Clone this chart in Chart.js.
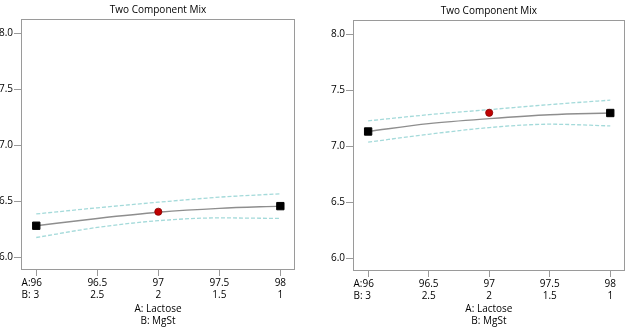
<!DOCTYPE html>
<html>
<head>
<meta charset="utf-8">
<script src="https://cdn.jsdelivr.net/npm/chart.js@4"></script>
<style>
  body { margin: 0; background: #fff; }
  .box { position: absolute; top: 0; height: 328px; }
</style>
</head>
<body>
<div class="box" style="left:0;width:316px"><canvas id="mix_1" width="316" height="328"></canvas></div>
<div class="box" style="left:316px;width:315px"><canvas id="mix_2" width="315" height="328"></canvas></div>
<script>
// 成分の目盛り (A: Lactose, B: MgSt)
var xLactose = [96, 96.5, 97, 97.5, 98];
var xMgSt = ['3', '2.5', '2', '1.5', '1'];
var yTicks = [6.0, 6.5, 7.0, 7.5, 8.0];

// 左のグラフ
var fitLeft = [6.28, 6.345, 6.40, 6.435, 6.455];
var upperLeft = [6.385, 6.44, 6.49, 6.535, 6.565];
var lowerLeft = [6.175, 6.265, 6.325, 6.35, 6.345];
var pointLeft = 6.405;

// 右のグラフ
var fitRight = [7.13, 7.20, 7.245, 7.28, 7.295];
var upperRight = [7.225, 7.28, 7.325, 7.37, 7.41];
var lowerRight = [7.035, 7.105, 7.165, 7.195, 7.18];
var pointRight = 7.297;

var FONT = { family: "'Open Sans', sans-serif", size: 10 };
var TEXT = '#000';
Chart.defaults.color = TEXT;

function xy(vals) {
    return vals.map(function (v, i) { return { x: xLactose[i], y: v }; });
}

// 枠線、タイトル位置、"A:" "B:" の表示
var framePlugin = {
    id: 'frame',
    afterLayout: function (chart) {
        // タイトルを描画領域の中央に置く
        if (chart.titleBlock) {
            chart.titleBlock.left = chart.chartArea.left;
            chart.titleBlock.right = chart.chartArea.right;
        }
    },
    beforeDatasetsDraw: function (chart) {
        var a = chart.chartArea, c = chart.ctx;
        c.save();
        c.strokeStyle = '#9a9a9a';
        c.lineWidth = 1;
        c.strokeRect(Math.round(a.left) + 0.5, Math.round(a.top) + 0.5,
                     Math.round(a.right - a.left) - 1, Math.round(a.bottom - a.top) - 1);
        c.restore();
    },
    afterDraw: function (chart) {
        var sx = chart.scales.x, c = chart.ctx;
        var px = sx.getPixelForValue(xLactose[0]);
        c.save();
        c.font = FONT.size + 'px ' + FONT.family;
        c.fillStyle = TEXT;
        c.textBaseline = 'middle';
        c.textAlign = 'left';
        var x0 = px - c.measureText(String(xLactose[0])).width / 2 - c.measureText('A:').width;
        var lh = FONT.size * 1.2;
        var y1 = sx.top + 7 + lh / 2;
        c.fillText('A:', x0, y1);
        c.fillText('B:', x0, y1 + lh);
        c.restore();
    }
};

function makeChart(id, fit, upper, lower, pt, dims) {
    var ctx = document.getElementById(id);
    return new Chart(ctx, {
        type: 'line',
        data: {
            datasets: [
                {
                    // 予測値の点
                    data: [{ x: 97, y: pt }],
                    showLine: false,
                    pointRadius: 3.6,
                    pointBackgroundColor: '#c00000',
                    pointBorderColor: '#8a0000',
                    pointBorderWidth: 0.8
                },
                {
                    // 予測曲線
                    data: xy(fit),
                    borderColor: '#8e8e8e',
                    borderWidth: 1.4,
                    cubicInterpolationMode: 'monotone',
                    pointStyle: 'rect',
                    pointRadius: [5.2, 0, 0, 0, 5.2],
                    pointBackgroundColor: '#000',
                    pointBorderColor: '#000',
                    pointBorderWidth: 1
                },
                {
                    data: xy(upper),
                    borderColor: '#a4dada',
                    borderWidth: 1.3,
                    borderDash: [4, 2],
                    cubicInterpolationMode: 'monotone',
                    pointRadius: 0
                },
                {
                    data: xy(lower),
                    borderColor: '#a4dada',
                    borderWidth: 1.3,
                    borderDash: [4, 2],
                    cubicInterpolationMode: 'monotone',
                    pointRadius: 0
                }
            ]
        },
        options: {
            responsive: false,
            animation: false,
            layout: { padding: { left: 0, right: dims.right, top: 0, bottom: 0 } },
            plugins: {
                legend: { display: false },
                tooltip: { enabled: false },
                title: {
                    display: true,
                    text: 'Two Component Mix',
                    font: { family: FONT.family, size: 10, weight: 'normal' },
                    color: TEXT,
                    padding: { top: dims.titleTop, bottom: 3 }
                }
            },
            scales: {
                x: {
                    type: 'linear',
                    min: 95.875,
                    max: 98.12,
                    afterBuildTicks: function (s) { s.ticks = xLactose.map(function (v) { return { value: v }; }); },
                    afterFit: function (s) { s.height = dims.xh; },
                    ticks: {
                        font: FONT,
                        padding: 1,
                        maxRotation: 0,
                        callback: function (v) {
                            var i = xLactose.indexOf(v);
                            return [String(v), xMgSt[i]];
                        }
                    },
                    grid: { drawOnChartArea: false, tickLength: 6, color: '#9a9a9a' },
                    border: { display: false },
                    title: {
                        display: true,
                        text: ['A: Lactose', 'B: MgSt'],
                        font: { family: FONT.family, size: 10, lineHeight: 1.27 },
                        padding: { top: 0, bottom: 0 }
                    }
                },
                y: {
                    min: 5.885,
                    max: 8.125,
                    afterBuildTicks: function (s) { s.ticks = yTicks.map(function (v) { return { value: v }; }); },
                    afterFit: function (s) { s.width = dims.yw; },
                    ticks: {
                        font: FONT,
                        padding: 1,
                        callback: function (v) { return v.toFixed(1); }
                    },
                    grid: { drawOnChartArea: false, tickLength: 7, color: '#9a9a9a' },
                    border: { display: false }
                }
            }
        },
        plugins: [framePlugin]
    });
}

makeChart('mix_1', fitLeft, upperLeft, lowerLeft, pointLeft, { yw: 21, xh: 58, right: 21, titleTop: 4 });
makeChart('mix_2', fitRight, upperRight, lowerRight, pointRight, { yw: 37, xh: 57, right: 3, titleTop: 5 });
</script>
</body>
</html>
